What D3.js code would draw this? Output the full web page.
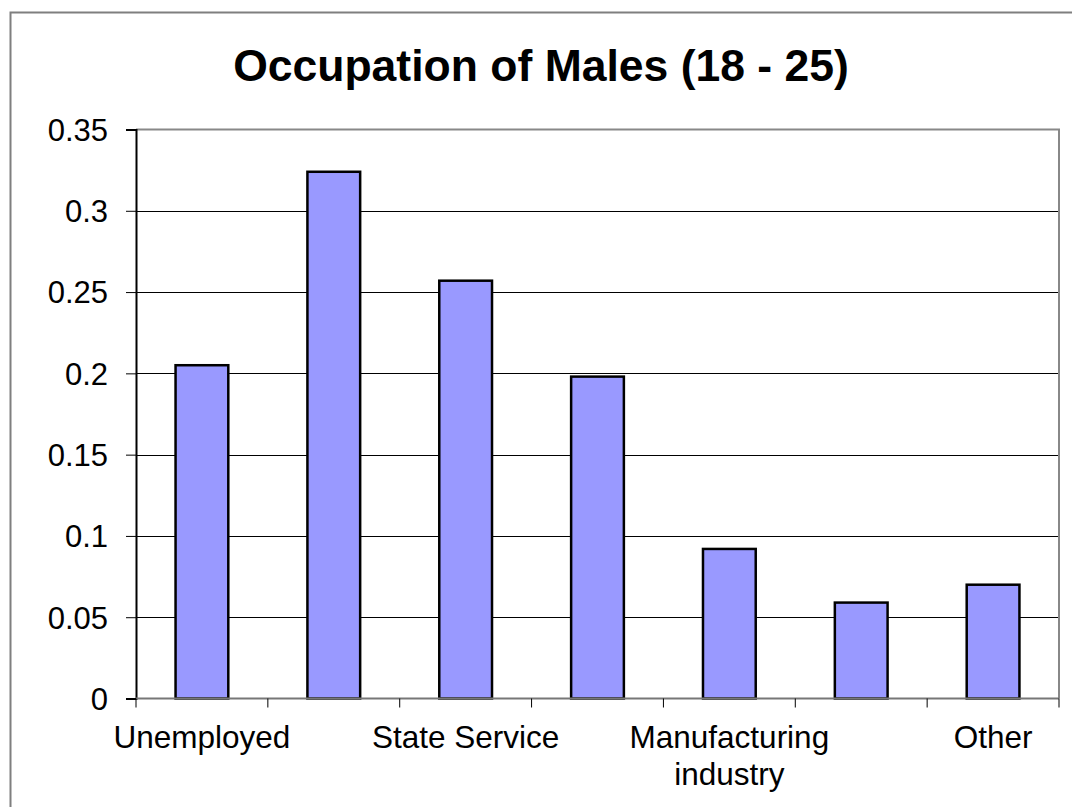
<!DOCTYPE html>
<html>
<head>
<meta charset="utf-8">
<script src="https://cdn.jsdelivr.net/npm/d3@7"></script>
<style>
  html, body { margin: 0; padding: 0; background: #fff; }
  svg { display: block; }
  text { font-family: "Liberation Sans", Arial, sans-serif; fill: #000; }
</style>
</head>
<body>
<svg id="chart" width="1072" height="807"></svg>
<script>
const title = "Occupation of Males (18 - 25)";
const categories = ["Unemployed", "Category 2", "State Service", "Category 4", "Manufacturing industry", "Category 6", "Other"];
const tickLabels = ["Unemployed", "", "State Service", "", "Manufacturing\nindustry", "", "Other"];
const values = [0.205, 0.324, 0.257, 0.198, 0.092, 0.059, 0.070];
const yTicks = [0, 0.05, 0.1, 0.15, 0.2, 0.25, 0.3, 0.35];

const svg = d3.select("#chart");
const plotLeft = 136, plotRight = 1059, plotTop = 129.5, plotBottom = 698.5;

// outer chart border
svg.append("rect")
  .attr("x", 10.5).attr("y", 12.5)
  .attr("width", 1100).attr("height", 850)
  .attr("fill", "none").attr("stroke", "#7f7f7f").attr("stroke-width", 2);

svg.append("text")
  .attr("x", 541).attr("y", 81)
  .attr("text-anchor", "middle")
  .style("font-size", "44.5px").style("font-weight", "bold")
  .text(title);

const x = d3.scaleBand().domain(categories).range([plotLeft, plotRight]).padding(0);
const y = d3.scaleLinear().domain([0, 0.35]).range([plotBottom, plotTop]);

// gridlines
svg.append("g").selectAll("line")
  .data(yTicks.filter(t => t > 0 && t < 0.35))
  .join("line")
  .attr("x1", plotLeft).attr("x2", plotRight)
  .attr("y1", d => Math.round(y(d)) + 0.5).attr("y2", d => Math.round(y(d)) + 0.5)
  .attr("stroke", "#000").attr("stroke-width", 1);

// plot border top & right
svg.append("path")
  .attr("d", `M${plotLeft},${plotTop} H${plotRight} V${plotBottom}`)
  .attr("fill", "none").attr("stroke", "#888").attr("stroke-width", 2);

// bars
const bw = x.bandwidth() * 0.4;
svg.append("g").selectAll("rect")
  .data(values)
  .join("rect")
  .attr("x", (d, i) => x(categories[i]) + (x.bandwidth() - bw) / 2)
  .attr("y", d => y(d))
  .attr("width", bw)
  .attr("height", d => plotBottom - y(d))
  .attr("fill", "#9999FF")
  .attr("stroke", "#000").attr("stroke-width", 2.5);

// y axis
const yAxis = d3.axisLeft(y).tickValues(yTicks).tickSize(10).tickPadding(18)
  .tickFormat(d => String(+d.toFixed(2)));
const gy = svg.append("g").attr("transform", `translate(${plotLeft},0)`).call(yAxis);
gy.select(".domain").attr("stroke", "#000").attr("stroke-width", 2);
gy.selectAll(".tick line").attr("stroke", "#000").attr("stroke-width", 1);
gy.selectAll(".tick text").style("font-size", "31px").attr("dy", "0.35em").attr("fill", "#000")
  .style("font-family", "'Liberation Sans', Arial, sans-serif");

// x axis
const boundaries = d3.range(categories.length + 1).map(i => plotLeft + i * x.step());
svg.append("line").attr("x1", plotLeft).attr("x2", plotRight)
  .attr("y1", plotBottom).attr("y2", plotBottom)
  .attr("stroke", "#777").attr("stroke-width", 2);
svg.append("g").selectAll("line")
  .data(boundaries)
  .join("line")
  .attr("x1", d => d).attr("x2", d => d)
  .attr("y1", plotBottom).attr("y2", plotBottom + 9)
  .attr("stroke", "#000").attr("stroke-width", 1);

const lbl = svg.append("g").selectAll("text")
  .data(tickLabels)
  .join("text")
  .attr("text-anchor", "middle")
  .style("font-size", "31.5px")
  .attr("transform", (d, i) => `translate(${x(categories[i]) + x.bandwidth() / 2},${plotBottom + 49})`);
lbl.each(function(d) {
  const lines = d.split("\n");
  d3.select(this).selectAll("tspan").data(lines).join("tspan")
    .attr("x", 0).attr("dy", (l, j) => j === 0 ? 0 : 37).text(l => l);
});
</script>
</body>
</html>
